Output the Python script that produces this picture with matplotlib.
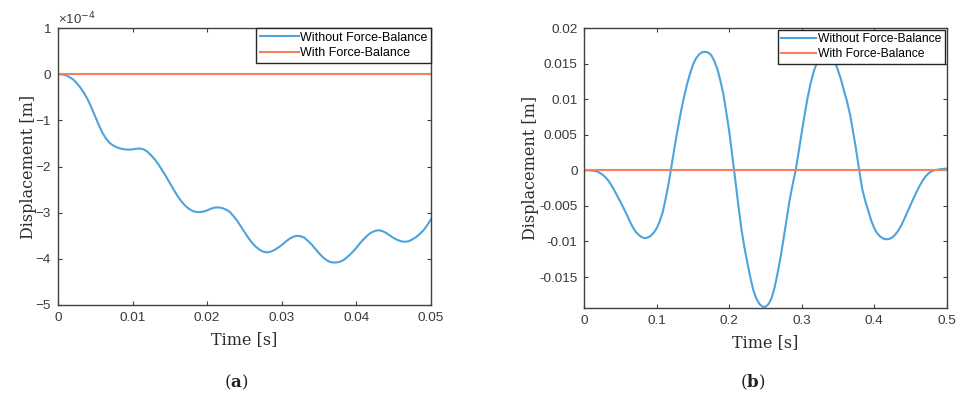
import numpy as np
import matplotlib
matplotlib.use("Agg")
import matplotlib.pyplot as plt

BLUE = "#4da3dd"
ORANGE = "#ee8458"
GREY = "#404040"

# (a) time in s (0.5 ms steps), displacement in units of 1e-4 m
time_a = np.linspace(0, 0.05, 101)
disp_a = [0.0, -0.005, -0.02, -0.06, -0.11, -0.19, -0.29, -0.41, -0.55, -0.73,
          -0.92, -1.11, -1.28, -1.41, -1.50, -1.555, -1.59, -1.615, -1.63, -1.635,
          -1.63, -1.615, -1.61, -1.63, -1.68, -1.76, -1.85, -1.96, -2.09, -2.22,
          -2.36, -2.50, -2.63, -2.745, -2.84, -2.91, -2.96, -2.985, -2.99, -2.975,
          -2.95, -2.915, -2.89, -2.885, -2.90, -2.93, -2.98, -3.07, -3.17, -3.295,
          -3.42, -3.54, -3.65, -3.735, -3.80, -3.845, -3.86, -3.845, -3.81, -3.76,
          -3.70, -3.63, -3.57, -3.525, -3.50, -3.51, -3.54, -3.61, -3.69, -3.785,
          -3.88, -3.965, -4.03, -4.07, -4.08, -4.075, -4.05, -4.00, -3.93, -3.85,
          -3.76, -3.66, -3.57, -3.49, -3.43, -3.395, -3.38, -3.40, -3.44, -3.495,
          -3.55, -3.59, -3.62, -3.63, -3.62, -3.58, -3.53, -3.46, -3.38, -3.27,
          -3.14]

# (b) time in s (1/240 s steps), displacement in units of 1e-3 m
time_b = np.linspace(0, 0.5, 121)
disp_b = [0.0, -0.005, -0.02, -0.07, -0.15, -0.35, -0.6, -1.0, -1.5, -2.15,
          -2.9, -3.7, -4.5, -5.35, -6.2, -7.15, -8.0, -8.65, -9.1, -9.4,
          -9.55, -9.45, -9.2, -8.75, -8.1, -7.1, -5.8, -3.8, -1.6, 1.0,
          3.6, 6.0, 8.3, 10.3, 12.1, 13.6, 14.9, 15.75, 16.3, 16.6,
          16.65, 16.55, 16.2, 15.4, 14.3, 12.7, 10.8, 8.2, 5.4, 2.0,
          -1.4, -4.9, -8.2, -10.8, -13.0, -15.1, -16.9, -18.05, -18.8, -19.15,
          -19.2, -18.8, -18.0, -16.5, -14.5, -12.2, -9.6, -6.9, -4.2, -2.0,
          0.0, 2.6, 5.3, 7.9, 10.3, 12.3, 13.9, 15.1, 15.9, 16.4,
          16.6, 16.45, 16.0, 15.2, 14.1, 12.8, 11.2, 9.7, 7.9, 5.5,
          3.0, 0.2, -2.5, -4.2, -5.6, -7.0, -8.1, -8.85, -9.3, -9.6,
          -9.7, -9.65, -9.45, -9.05, -8.5, -7.75, -6.85, -5.9, -4.95, -4.0,
          -3.1, -2.25, -1.5, -0.9, -0.45, -0.15, 0.0, 0.08, 0.15, 0.2,
          0.24]

labels = ["Without Force-Balance", "With Force-Balance"]

xticks_a = [0, 0.01, 0.02, 0.03, 0.04, 0.05]
xtick_labels_a = ["0", "0.01", "0.02", "0.03", "0.04", "0.05"]
yticks_a = [-5, -4, -3, -2, -1, 0, 1]
ytick_labels_a = ["\u22125", "\u22124", "\u22123", "\u22122", "\u22121", "0", "1"]

xticks_b = [0, 0.1, 0.2, 0.3, 0.4, 0.5]
xtick_labels_b = ["0", "0.1", "0.2", "0.3", "0.4", "0.5"]
yticks_b = [-0.015, -0.01, -0.005, 0, 0.005, 0.01, 0.015, 0.02]
ytick_labels_b = ["-0.015", "-0.01", "-0.005", "0",
                  "0.005", "0.01", "0.015", "0.02"]


def style_axes(ax):
    for side in ax.spines.values():
        side.set_color(GREY)
        side.set_linewidth(1.0)
    ax.tick_params(direction="in", top=True, right=True, length=3,
                   width=0.8, colors=GREY, labelsize=9.7, pad=5)
    for lab in ax.get_xticklabels() + ax.get_yticklabels():
        lab.set_color("#3a3a3a")
        lab.set_family("Liberation Sans")


def add_legend(ax, size, hlen, pad):
    leg = ax.legend(loc="upper right", frameon=True, fancybox=False,
                    borderpad=0.3, handlelength=hlen, handletextpad=0.1,
                    labelspacing=0.25, borderaxespad=pad,
                    prop={"family": "Liberation Sans", "size": size})
    leg.get_frame().set_edgecolor("#262626")
    leg.get_frame().set_linewidth(1.0)
    leg.get_frame().set_alpha(1.0)
    return leg


fig = plt.figure(figsize=(9.58, 3.94), dpi=100)
plt.rcParams["mathtext.fontset"] = "dejavuserif"
label_font = dict(family="DejaVu Serif", size=11.5, color="#2e2e2e")

# -------------------- PANEL (a) --------------------
ax1 = fig.add_axes([0.0605, 0.2259, 0.3894, 0.7030])
ax1.plot(time_a, disp_a, color=BLUE, lw=1.5, label=labels[0])
ax1.plot(time_a, np.zeros(len(time_a)), color=ORANGE, lw=1.5, label=labels[1])
ax1.set_xlim(0, 0.05)
ax1.set_ylim(-5, 1)
ax1.set_xticks(xticks_a)
ax1.set_xticklabels(xtick_labels_a)
ax1.set_yticks(yticks_a)
ax1.set_yticklabels(ytick_labels_a)
style_axes(ax1)
ax1.text(0.0, 1.004, "\u00d710$^{\\mathsf{-4}}$", transform=ax1.transAxes,
         fontsize=9.5, color="#3a3a3a", ha="left", va="bottom",
         family="Liberation Sans")
ax1.set_xlabel("Time [s]", labelpad=5, **label_font)
ax1.set_ylabel("Displacement [m]", labelpad=-1, **label_font)
add_legend(ax1, 9, 3.1, 0.0)

# -------------------- PANEL (b) --------------------
ax2 = fig.add_axes([0.6101, 0.2175, 0.3779, 0.7114])
ax2.plot(time_b, np.array(disp_b) * 1e-3, color=BLUE, lw=1.5, label=labels[0])
ax2.plot(time_b, np.zeros(len(time_b)), color=ORANGE, lw=1.5, label=labels[1])
ax2.set_xlim(0, 0.5)
ax2.set_ylim(-0.0194, 0.02)
ax2.set_xticks(xticks_b)
ax2.set_xticklabels(xtick_labels_b)
ax2.set_yticks(yticks_b)
ax2.set_yticklabels(ytick_labels_b)
style_axes(ax2)
ax2.set_xlabel("Time [s]", labelpad=5, **label_font)
ax2.set_ylabel("Displacement [m]", labelpad=0, **label_font)
add_legend(ax2, 8.7, 2.9, 0.15)

# sub-figure captions
fig.text(236 / 958, 1 - 382 / 394, "(" + r"$\mathbf{a}$" + ")",
         ha="center", va="center", family="DejaVu Serif", size=12, color="#222222")
fig.text(753 / 958, 1 - 382 / 394, "(" + r"$\mathbf{b}$" + ")",
         ha="center", va="center", family="DejaVu Serif", size=12, color="#222222")

fig.savefig("out.png", dpi=100, facecolor="white")
